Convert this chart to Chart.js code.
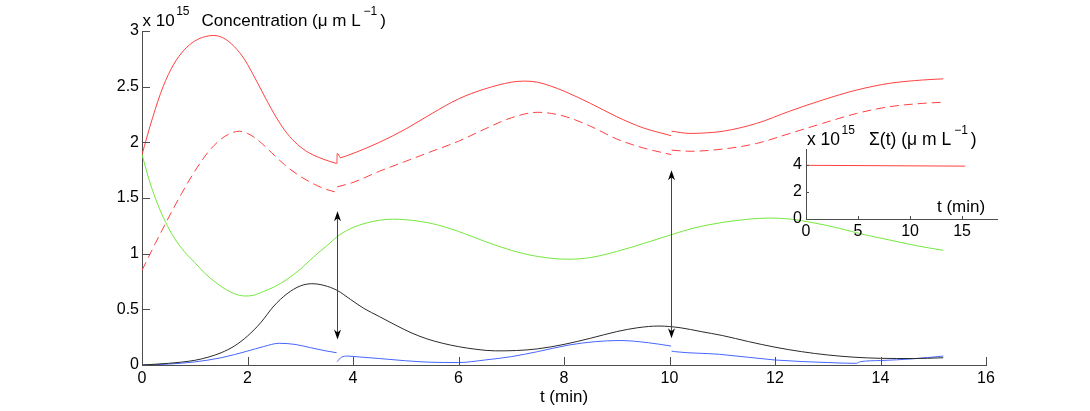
<!DOCTYPE html>
<html><head><meta charset="utf-8">
<script src="https://cdn.jsdelivr.net/npm/chart.js@4/dist/chart.umd.min.js"></script>
<style>
html,body{margin:0;padding:0;background:#fff;}
#wrap{position:relative;width:1090px;height:411px;}
canvas{position:absolute;left:0;top:0;}
</style></head><body>
<div id="wrap"><canvas id="main" width="1090" height="411"></canvas><canvas id="inset" width="1090" height="411"></canvas></div>
<script>
// ---- data (concentration, units of 1e15 µm/L; time in min) ----
const redT1 = [0, 0.2, 0.4, 0.6, 0.8, 1.0, 1.2, 1.36, 1.55, 1.75, 1.95, 2.15, 2.35, 2.55, 2.75, 2.95, 3.15, 3.35, 3.55, 3.69];
const redV1 = [1.89, 2.22, 2.50, 2.70, 2.83, 2.91, 2.95, 2.96, 2.935, 2.86, 2.74, 2.57, 2.39, 2.22, 2.08, 1.98, 1.91, 1.865, 1.83, 1.81];
const redSpikeT = [3.695, 3.70, 3.76];
const redSpikeV = [1.81, 1.90, 1.86];
const redT2 = [3.76, 4.0, 4.5, 5.0, 5.5, 6.0, 6.5, 7.0, 7.25, 7.5, 7.75, 8.0, 8.5, 9.0, 9.5, 10.03];
const redV2 = [1.86, 1.90, 2.00, 2.12, 2.26, 2.39, 2.48, 2.54, 2.55, 2.54, 2.505, 2.46, 2.35, 2.23, 2.13, 2.06];
const redT3 = [10.04, 10.39, 10.7, 11.02, 11.65, 12.28, 12.9, 13.55, 14.17, 14.8, 15.19];
const redV3 = [2.10, 2.08, 2.085, 2.10, 2.17, 2.28, 2.38, 2.47, 2.53, 2.56, 2.57];

const dashT1 = [0, 0.25, 0.5, 0.75, 1.0, 1.25, 1.5, 1.7, 1.85, 2.0, 2.2, 2.45, 2.7, 2.95, 3.2, 3.45, 3.69];
const dashV1 = [0.85, 1.09, 1.32, 1.54, 1.74, 1.91, 2.03, 2.085, 2.10, 2.08, 2.02, 1.91, 1.80, 1.71, 1.64, 1.585, 1.55];
const dashT2 = [3.70, 4.0, 4.5, 5.0, 5.5, 6.0, 6.5, 7.0, 7.5, 8.0, 8.5, 9.0, 9.5, 10.03];
const dashV2 = [1.60, 1.64, 1.74, 1.83, 1.92, 2.01, 2.12, 2.22, 2.27, 2.235, 2.145, 2.03, 1.95, 1.89];
const dashT3 = [10.04, 10.39, 11.02, 11.65, 12.28, 12.9, 13.55, 14.17, 14.8, 15.19];
const dashV3 = [1.93, 1.92, 1.94, 1.99, 2.08, 2.17, 2.26, 2.32, 2.35, 2.36];

const greenT = [0, 0.15, 0.3, 0.45, 0.6, 0.8, 1.0, 1.2, 1.4, 1.6, 1.75, 1.95, 2.1, 2.3, 2.5, 2.75, 3.0, 3.25, 3.5, 3.75, 4.0, 4.25, 4.5, 4.75, 5.0, 5.5, 6.0, 6.5, 7.0, 7.5, 8.07, 8.5, 9.0, 9.5, 10.03, 10.5, 11.0, 11.5, 11.9, 12.3, 12.7, 13.2, 13.7, 14.2, 14.7, 15.19];
const greenV = [1.89, 1.64, 1.44, 1.28, 1.15, 1.02, 0.92, 0.82, 0.74, 0.675, 0.64, 0.62, 0.625, 0.66, 0.70, 0.77, 0.86, 0.97, 1.07, 1.17, 1.235, 1.275, 1.30, 1.31, 1.305, 1.27, 1.20, 1.11, 1.03, 0.975, 0.95, 0.965, 1.02, 1.09, 1.17, 1.235, 1.28, 1.31, 1.32, 1.31, 1.28, 1.23, 1.17, 1.12, 1.07, 1.03];

const blackT = [0, 0.5, 1.0, 1.25, 1.5, 1.75, 2.0, 2.25, 2.5, 2.75, 3.0, 3.22, 3.45, 3.7, 3.95, 4.2, 4.5, 4.8, 5.1, 5.4, 5.7, 6.0, 6.35, 6.7, 7.1, 7.5, 8.0, 8.5, 9.0, 9.4, 9.8, 10.2, 10.6, 11.0, 11.5, 12.0, 12.5, 13.0, 13.5, 14.0, 14.6, 15.19];
const blackV = [0, 0.015, 0.042, 0.07, 0.11, 0.17, 0.26, 0.38, 0.53, 0.64, 0.71, 0.73, 0.715, 0.67, 0.59, 0.51, 0.435, 0.36, 0.29, 0.235, 0.195, 0.165, 0.14, 0.127, 0.13, 0.145, 0.185, 0.24, 0.30, 0.335, 0.35, 0.335, 0.30, 0.265, 0.21, 0.16, 0.12, 0.09, 0.07, 0.06, 0.058, 0.065];

const blueT1 = [0, 0.5, 1.0, 1.5, 2.0, 2.3, 2.6, 2.9, 3.2, 3.45, 3.69];
const blueV1 = [0, 0.008, 0.028, 0.065, 0.125, 0.165, 0.195, 0.185, 0.155, 0.13, 0.11];
const blueT2 = [3.70, 3.78, 3.9, 4.0, 4.5, 5.0, 5.46, 6.0, 6.5, 7.0, 7.5, 8.1, 8.6, 9.06, 9.6, 10.03];
const blueV2 = [0.03, 0.07, 0.08, 0.077, 0.058, 0.038, 0.025, 0.022, 0.045, 0.075, 0.12, 0.18, 0.21, 0.22, 0.20, 0.17];
const blueT3 = [10.04, 10.1, 10.95, 12.0, 13.0, 13.54, 13.62, 14.0, 14.6, 15.19];
const blueV3 = [0.125, 0.12, 0.096, 0.045, 0.022, 0.015, 0.03, 0.04, 0.055, 0.08];

const arrowT = [3.7, 10.03];
const arrowTop = [1.38, 1.75];
const arrowBottom = [0.23, 0.24];

const sigmaT = [0, 5, 10, 15.3];
const sigmaV = [3.95, 3.93, 3.91, 3.89];

const xTicks = [0, 2, 4, 6, 8, 10, 12, 14, 16];
const yTicks = [0, 0.5, 1, 1.5, 2, 2.5, 3];
const insetXTicks = [0, 5, 10, 15];
const insetYTicks = [0, 2, 4];

// ---- styling ----
const FONT = "'Liberation Sans', Arial, Helvetica, sans-serif";
const AXIS = '#4d4d4d';
const RED = '#ff4040', GREEN = '#74e83c', BLUE = '#4666ff', BLACK = '#2a2a2a';

function pts(ts, vs){ return ts.map((t,i)=>({x:t, y:vs[i]})); }
function line(ts, vs, color, dash){
  return {data: pts(ts, vs), borderColor: color, borderWidth: 1, pointRadius: 0,
          fill: false, borderDash: dash || [], cubicInterpolationMode: 'monotone'};
}

const inwardTicks = {
  id: 'inwardTicks',
  afterDraw(chart, args, opts){
    const {ctx, scales:{x, y}} = chart;
    ctx.save(); ctx.strokeStyle = AXIS; ctx.lineWidth = 1;
    x.ticks.forEach(t=>{
      const px = Math.round(x.getPixelForValue(t.value)) + 0.5;
      ctx.beginPath(); ctx.moveTo(px, y.bottom); ctx.lineTo(px, y.bottom - opts.len); ctx.stroke();
    });
    y.ticks.forEach(t=>{
      const py = Math.round(y.getPixelForValue(t.value)) + 0.5;
      ctx.beginPath(); ctx.moveTo(x.left, py); ctx.lineTo(x.left + opts.len, py); ctx.stroke();
    });
    ctx.restore();
  }
};

function arrowHead(ctx, px, tipY, dir){
  const L = 10, W = 3.5, B = 3;
  ctx.beginPath();
  ctx.moveTo(px, tipY);
  ctx.lineTo(px + W, tipY + dir*L);
  ctx.lineTo(px, tipY + dir*(L - B));
  ctx.lineTo(px - W, tipY + dir*L);
  ctx.closePath(); ctx.fill();
}
const arrows = {
  id: 'arrows',
  afterDatasetsDraw(chart){
    const {ctx, scales:{x, y}} = chart;
    ctx.save(); ctx.lineWidth = 1; ctx.fillStyle = '#000'; ctx.strokeStyle = '#444';
    arrowT.forEach((t,i)=>{
      const px = Math.round(x.getPixelForValue(t)) + 0.5;
      const y1 = y.getPixelForValue(arrowTop[i]);
      const y2 = y.getPixelForValue(arrowBottom[i]);
      ctx.beginPath(); ctx.moveTo(px, y1 + 6); ctx.lineTo(px, y2 - 6); ctx.stroke();
      arrowHead(ctx, px, y1, 1); arrowHead(ctx, px, y2, -1);
    });
    ctx.restore();
  }
};

// "x 10^15" exponent block and an axis label with a superscript "−1"
function header(ctx, x0, base, size, supSize, labelX, label){
  ctx.save(); ctx.fillStyle = '#000'; ctx.textAlign = 'left'; ctx.textBaseline = 'alphabetic';
  ctx.font = size + 'px ' + FONT;
  ctx.fillText('x 10', x0, base);
  const e = x0 + ctx.measureText('x 10').width + 1.5;
  ctx.font = supSize + 'px ' + FONT; ctx.fillText('15', e, base - 11);
  ctx.font = size + 'px ' + FONT; ctx.fillText(label, labelX, base);
  let xx = labelX + ctx.measureText(label).width + 3;
  ctx.font = supSize + 'px ' + FONT; ctx.fillText('\u22121', xx, base - 11);
  xx += ctx.measureText('\u22121').width + 3;
  ctx.font = size + 'px ' + FONT; ctx.fillText(')', xx, base);
  ctx.restore();
}

const mainText = {
  id: 'mainText',
  afterDraw(chart){
    header(chart.ctx, 142.5, 26, 17, 12, 201.5, 'Concentration (\u03bc m L');
  }
};

const insetText = {
  id: 'insetText',
  afterDraw(chart){
    const ctx = chart.ctx;
    header(ctx, 807, 145, 17.5, 12, 869, '\u03a3(t) (\u03bc m L');
    ctx.save(); ctx.fillStyle = '#000'; ctx.textAlign = 'left'; ctx.textBaseline = 'alphabetic';
    ctx.font = '17px ' + FONT;
    ctx.fillText('t (min)', 937, 212);
    ctx.restore();
  }
};

Chart.defaults.font.family = FONT;
Chart.defaults.color = '#000';
const fmt = v => String(v);

new Chart(document.getElementById('main'), {
  type: 'line',
  data: { datasets: [
    line(redT1, redV1, RED), line(redSpikeT, redSpikeV, RED), line(redT2, redV2, RED), line(redT3, redV3, RED),
    line(dashT1, dashV1, RED, [9,5]), line(dashT2, dashV2, RED, [9,5]), line(dashT3, dashV3, RED, [9,5]),
    line(greenT, greenV, GREEN),
    line(blackT, blackV, BLACK),
    line(blueT1, blueV1, BLUE), line(blueT2, blueV2, BLUE), line(blueT3, blueV3, BLUE)
  ]},
  options: {
    responsive: false, maintainAspectRatio: false, animation: false,
    layout: { padding: {left: 0, right: 104, top: 31, bottom: 0} },
    plugins: { legend: {display: false}, tooltip: {enabled: false}, inwardTicks: {len: 8} },
    scales: {
      x: { type: 'linear', min: 0, max: 16,
        afterBuildTicks: s => { s.ticks = xTicks.map(v=>({value: v})); },
        afterFit: s => { s.height = 46; },
        grid: {display: false, drawTicks: false},
        border: {display: true, color: AXIS, width: 1},
        ticks: {padding: 4, font: {size: 16}, color: '#000', maxRotation: 0, autoSkip: false, callback: fmt},
        title: {display: true, text: 't (min)', font: {size: 17}, color: '#000', padding: {top: 0, bottom: 3}}
      },
      y: { type: 'linear', min: 0, max: 3,
        afterBuildTicks: s => { s.ticks = yTicks.map(v=>({value: v})); },
        afterFit: s => { s.width = 142; },
        grid: {display: false, drawTicks: false},
        border: {display: true, color: AXIS, width: 1},
        ticks: {padding: 3, font: {size: 16}, color: '#000', autoSkip: false, callback: fmt}
      }
    }
  },
  plugins: [inwardTicks, arrows, mainText]
});

new Chart(document.getElementById('inset'), {
  type: 'line',
  data: { datasets: [ line(sigmaT, sigmaV, RED) ] },
  options: {
    responsive: false, maintainAspectRatio: false, animation: false,
    layout: { padding: {left: 776, right: 93, top: 149, bottom: 172} },
    plugins: { legend: {display: false}, tooltip: {enabled: false}, inwardTicks: {len: 3} },
    scales: {
      x: { type: 'linear', min: 0, max: 18.36,
        afterBuildTicks: s => { s.ticks = insetXTicks.map(v=>({value: v})); },
        afterFit: s => { s.height = 20; },
        grid: {display: false, drawTicks: false},
        border: {display: true, color: AXIS, width: 1},
        ticks: {padding: 3, font: {size: 16}, color: '#000', maxRotation: 0, autoSkip: false, callback: fmt}
      },
      y: { type: 'linear', min: 0, max: 5.15,
        afterBuildTicks: s => { s.ticks = insetYTicks.map(v=>({value: v})); },
        afterFit: s => { s.width = 30; },
        grid: {display: false, drawTicks: false},
        border: {display: true, color: AXIS, width: 1},
        ticks: {padding: 4, font: {size: 16}, color: '#000', autoSkip: false, callback: fmt}
      }
    }
  },
  plugins: [inwardTicks, insetText]
});
</script>
</body></html>
